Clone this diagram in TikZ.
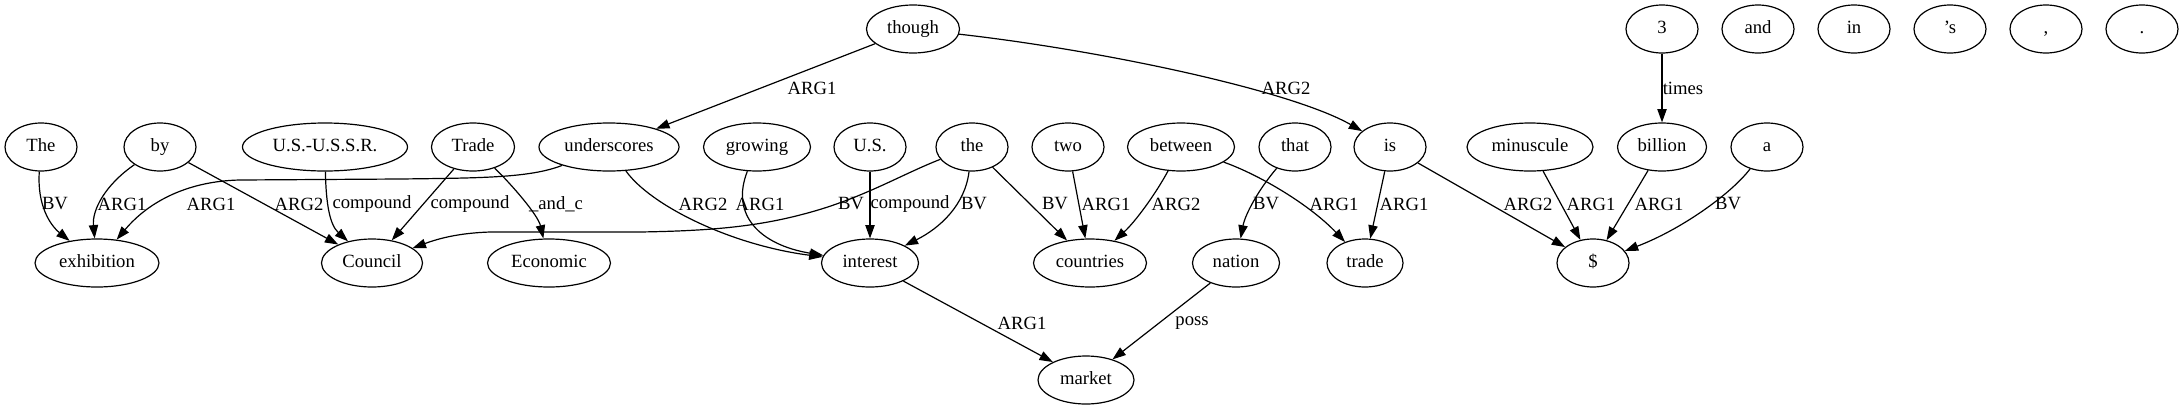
\documentclass[tikz,border=0pt]{standalone}
\usepackage{fontspec}
\setmainfont{Liberation Serif}
\usetikzlibrary{shapes.geometric,arrows.meta}
\begin{document}
\begin{tikzpicture}[x=0.75pt,y=-0.75pt,
  nd/.style={draw,ellipse,inner sep=0pt,minimum height=36pt,minimum width=#1*0.75pt,line width=0.9pt,text height=9.5pt,text depth=3pt,font=\fontsize{14}{16}\selectfont},
  nd/.default=72,
  e/.style={-{Triangle[length=10pt,width=7pt]},line width=0.9pt},
  lbl/.style={font=\fontsize{14}{16}\selectfont,inner sep=0pt}]
\useasboundingbox (0,0) rectangle (2184,411);
% top row
\node[nd=93] (though) at (913,29) {though};
\node[nd] (three) at (1662,29) {3};
\node[nd] (and) at (1758,29) {and};
\node[nd] (in) at (1854,29) {in};
\node[nd] (poss) at (1950,29) {’s};
\node[nd] (comma) at (2046,29) {,};
\node[nd] (period) at (2142,29) {.};
% middle row
\node[nd] (The) at (41,147) {The};
\node[nd] (by) at (160,147) {by};
\node[nd=165] (ussr) at (325,147) {U.S.-U.S.S.R.};
\node[nd=83] (Trade) at (473,147) {Trade};
\node[nd=140] (underscores) at (609,147) {underscores};
\node[nd=107] (growing) at (757,147) {growing};
\node[nd] (us) at (870,147) {U.S.};
\node[nd] (the) at (972,147) {the};
\node[nd] (two) at (1068,147) {two};
\node[nd=107] (between) at (1181,147) {between};
\node[nd] (that) at (1295,147) {that};
\node[nd] (is) at (1390,147) {is};
\node[nd=126] (minuscule) at (1530,147) {minuscule};
\node[nd=89] (billion) at (1662,147) {billion};
\node[nd] (a) at (1767,147) {a};
% bottom row
\node[nd=124] (exhibition) at (97,263) {exhibition};
\node[nd=101] (Council) at (372,263) {Council};
\node[nd=123] (Economic) at (549,263) {Economic};
\node[nd=97] (interest) at (870,263) {interest};
\node[nd=113] (countries) at (1090,263) {countries};
\node[nd=87] (nation) at (1236,263) {nation};
\node[nd=76] (trade) at (1365,263) {trade};
\node[nd] (dollar) at (1593,263) {\$};
\node[nd=96] (market) at (1086,380) {market};
% edges
\draw[e] (The) .. controls (37,205) and (50,225) .. (exhibition);
\draw[e] (by) .. controls (105,185) and (92,210) .. (exhibition);
\draw[e] (underscores) .. controls (530,178) and (480,178) .. (400,179) -- (240,180) .. controls (190,181) and (150,200) .. (exhibition);
\draw[e] (by) -- (Council);
\draw[e] (ussr) .. controls (326,205) and (330,225) .. (Council);
\draw[e] (Trade) -- (Council);
\draw[e] (Trade) .. controls (512,185) and (538,215) .. (Economic);
\draw[e] (the) .. controls (900,175) and (860,200) .. (800,215) .. controls (750,228) and (700,231) .. (640,232) -- (490,232) .. controls (460,233) and (440,238) .. (Council);
\draw[e] (underscores) .. controls (650,205) and (730,245) .. (interest);
\draw[e] (growing) .. controls (730,215) and (760,245) .. (interest);
\draw[e] (us) -- (interest);
\draw[e] (the) .. controls (965,205) and (940,228) .. (interest);
\draw[e] (the) -- (countries);
\draw[e] (two) -- (countries);
\draw[e] (between) .. controls (1155,195) and (1135,222) .. (countries);
\draw[e] (between) .. controls (1260,175) and (1310,205) .. (trade);
\draw[e] (that) .. controls (1258,190) and (1245,215) .. (nation);
\draw[e] (is) -- (trade);
\draw[e] (though) -- (underscores);
\draw[e] (though) .. controls (1100,50) and (1290,90) .. (is);
\draw[e] (interest) -- (market);
\draw[e] (nation) -- (market);
\draw[e] (is) -- (dollar);
\draw[e] (minuscule) -- (dollar);
\draw[e] (billion) -- (dollar);
\draw[e] (a) .. controls (1730,195) and (1680,230) .. (dollar);
\draw[e] (three) -- (billion);
% labels
\node[lbl] (l1) at (55,204) {BV};
\node[lbl] (l2) at (122,204) {ARG1};
\node[lbl] (l3) at (211,204) {ARG1};
\node[lbl] (l4) at (299,204) {ARG2};
\node[lbl] (l5) at (372,204) {compound};
\node[lbl] (l6) at (470,204) {compound};
\node[lbl] (l7) at (556,204) {\_and\_c};
\node[lbl] (l8) at (703,204) {ARG2};
\node[lbl] (l9) at (812,88) {ARG1};
\node[lbl] (l10) at (1286,88) {ARG2};
\node[lbl] (l11) at (760,204) {ARG1};
\node[lbl] (l12) at (851,204) {BV};
\node[lbl] (l13) at (910,204) {compound};
\node[lbl] (l14) at (974,204) {BV};
\node[lbl] (l15) at (1055,204) {BV};
\node[lbl] (l16) at (1106,204) {ARG1};
\node[lbl] (l17) at (1176,204) {ARG2};
\node[lbl] (l18) at (1266,204) {BV};
\node[lbl] (l19) at (1334,204) {ARG1};
\node[lbl] (l20) at (1404,204) {ARG1};
\node[lbl] (l21) at (1022,323) {ARG1};
\node[lbl] (l22) at (1192,323) {poss};
\node[lbl] (l23) at (1683,88) {times};
\node[lbl] (l24) at (1528,204) {ARG2};
\node[lbl] (l25) at (1591,204) {ARG1};
\node[lbl] (l26) at (1659,204) {ARG1};
\node[lbl] (l27) at (1728,204) {BV};
\end{tikzpicture}
\end{document}
